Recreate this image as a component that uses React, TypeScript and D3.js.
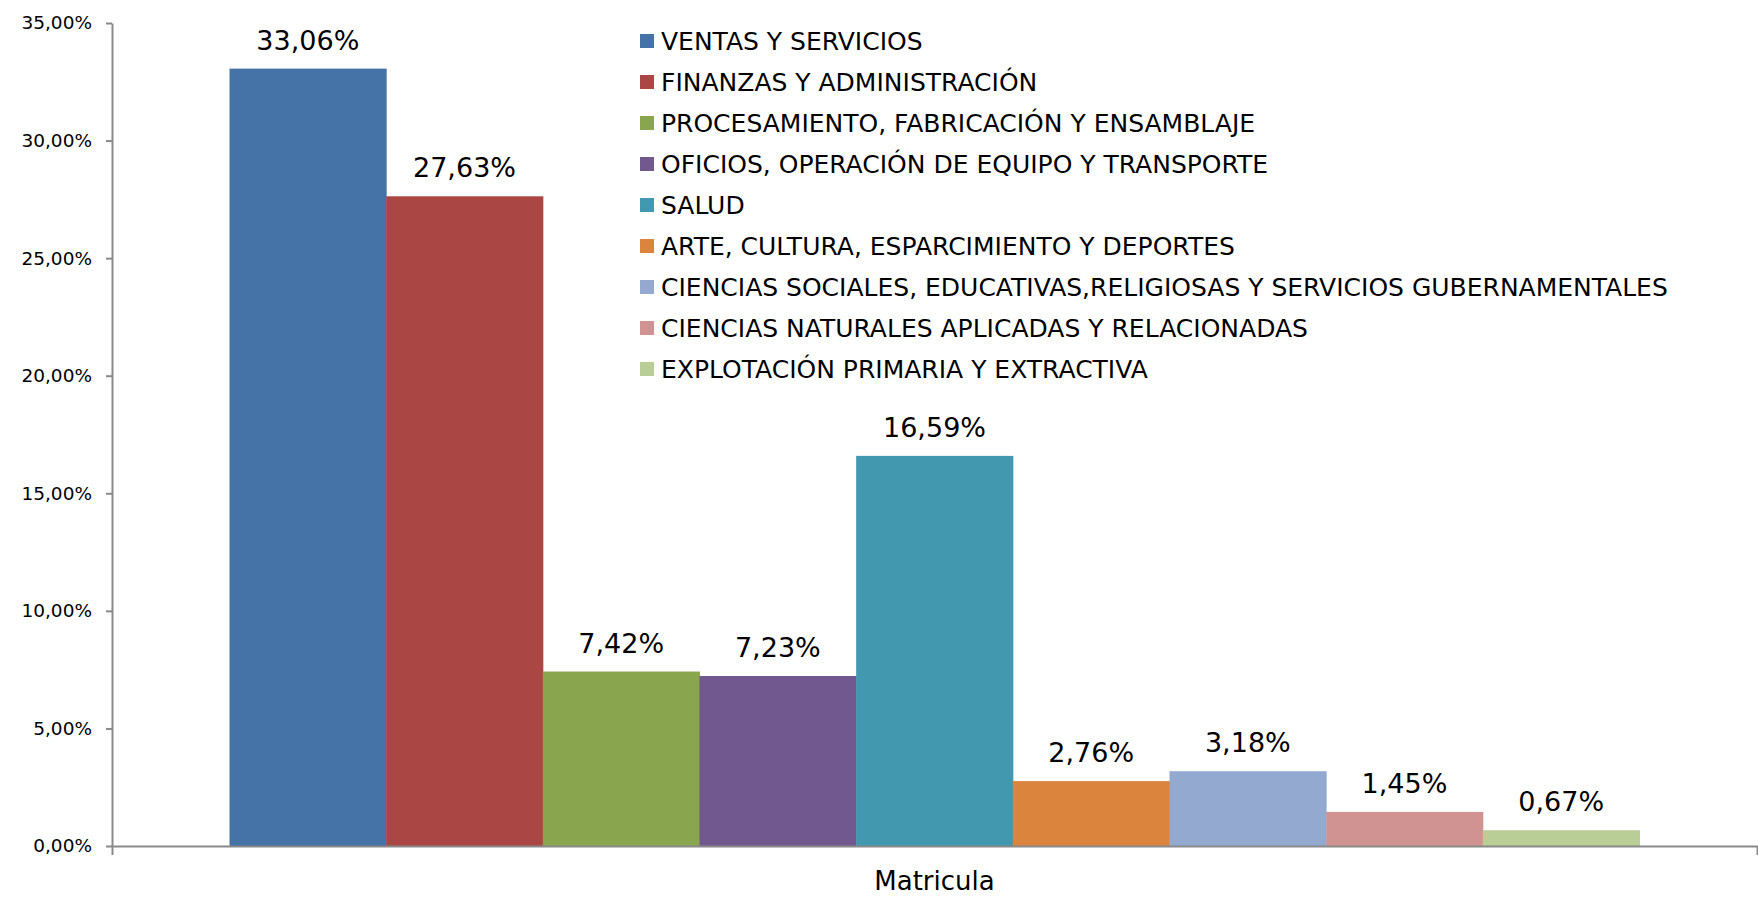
import { useEffect, useRef } from "react";
import * as d3 from "d3";

// Data
const category = "Matricula";
const seriesNames = [
  "VENTAS Y SERVICIOS",
  "FINANZAS Y ADMINISTRACIÓN",
  "PROCESAMIENTO, FABRICACIÓN Y ENSAMBLAJE",
  "OFICIOS, OPERACIÓN DE EQUIPO Y TRANSPORTE",
  "SALUD",
  "ARTE, CULTURA, ESPARCIMIENTO Y DEPORTES",
  "CIENCIAS SOCIALES, EDUCATIVAS,RELIGIOSAS Y SERVICIOS GUBERNAMENTALES",
  "CIENCIAS NATURALES APLICADAS Y RELACIONADAS",
  "EXPLOTACIÓN PRIMARIA Y EXTRACTIVA",
];
const seriesValues = [0.3306, 0.2763, 0.0742, 0.0723, 0.1659, 0.0276, 0.0318, 0.0145, 0.0067];
const seriesColors = [
  "#4572A7", "#AA4643", "#89A54E", "#71588F", "#4198AF",
  "#DB843D", "#93A9CF", "#D19392", "#B9CD96",
];
const yTicks = [0, 0.05, 0.1, 0.15, 0.2, 0.25, 0.3, 0.35];

const App = () => {
  const svgRef = useRef<SVGSVGElement>(null);

  useEffect(() => {
    const width = 1758;
    const height = 901;
    const margin = { top: 23, right: 1, bottom: 55, left: 112 };
    const font = "'DejaVu Sans', Verdana, sans-serif";
    const axisColor = "#898989";

    const svg = d3.select(svgRef.current).attr("width", width).attr("height", height);
    svg.selectAll("*").remove();

    const locale = d3.formatLocale({ decimal: ",", thousands: ".", grouping: [3], currency: ["", ""] });
    const fmt = locale.format(".2%");

    // Scales
    const y = d3.scaleLinear().domain([0, 0.35]).range([height - margin.bottom, margin.top]);
    const x0 = d3.scaleBand().domain([category]).range([margin.left, width - margin.right]);
    const x1 = d3
      .scaleBand()
      .domain(seriesNames)
      .range([0, x0.bandwidth()])
      .paddingInner(0)
      .paddingOuter(0.75);

    // Bars
    const g = svg.append("g").attr("transform", `translate(${x0(category)},0)`);
    g.selectAll("rect")
      .data(seriesNames)
      .enter()
      .append("rect")
      .attr("x", (d) => x1(d)!)
      .attr("y", (d, i) => y(seriesValues[i]))
      .attr("width", x1.bandwidth() + 0.5)
      .attr("height", (d, i) => y(0) - y(seriesValues[i]))
      .attr("fill", (d, i) => seriesColors[i]);

    // Data labels
    g.selectAll("text.label")
      .data(seriesNames)
      .enter()
      .append("text")
      .attr("class", "label")
      .attr("x", (d) => x1(d)! + x1.bandwidth() / 2)
      .attr("y", (d, i) => y(seriesValues[i]) - 19)
      .attr("text-anchor", "middle")
      .style("font-family", font)
      .style("font-size", "27px")
      .attr("fill", "#000")
      .text((d, i) => fmt(seriesValues[i]));

    // Y axis
    const yAxis = svg
      .append("g")
      .attr("transform", `translate(${margin.left},0)`)
      .call(d3.axisLeft(y).tickValues(yTicks).tickFormat((d) => fmt(d as number)).tickSize(6).tickSizeOuter(0));
    yAxis.select(".domain").attr("stroke", axisColor).attr("stroke-width", 2);
    yAxis.selectAll(".tick line").attr("stroke", axisColor).attr("stroke-width", 2);
    yAxis
      .selectAll(".tick text")
      .attr("x", -20)
      .style("font-family", font)
      .style("font-size", "18.5px")
      .attr("fill", "#000");

    // X axis
    const xAxis = svg
      .append("g")
      .attr("transform", `translate(0,${y(0)})`)
      .call(d3.axisBottom(x0).tickSize(0).tickSizeOuter(9));
    xAxis.select(".domain").attr("stroke", axisColor).attr("stroke-width", 2);
    xAxis
      .selectAll(".tick text")
      .attr("y", 44)
      .attr("dy", 0)
      .style("font-family", font)
      .style("font-size", "26px")
      .attr("fill", "#000");

    // Legend
    const legend = svg
      .append("g")
      .selectAll("g")
      .data(seriesNames)
      .enter()
      .append("g")
      .attr("transform", (d, i) => `translate(640,${41 + i * 41})`);
    legend
      .append("rect")
      .attr("x", 0)
      .attr("y", -7)
      .attr("width", 14)
      .attr("height", 14)
      .attr("fill", (d, i) => seriesColors[i]);
    legend
      .append("text")
      .attr("x", 21)
      .attr("dy", "0.36em")
      .style("font-family", font)
      .style("font-size", "25px")
      .attr("fill", "#000")
      .text((d) => d);
  }, []);

  return (
    <div style={{ position: "absolute", left: 0, top: 0 }}>
      <svg ref={svgRef} style={{ display: "block", background: "#fff" }}></svg>
    </div>
  );
};

export default App;
